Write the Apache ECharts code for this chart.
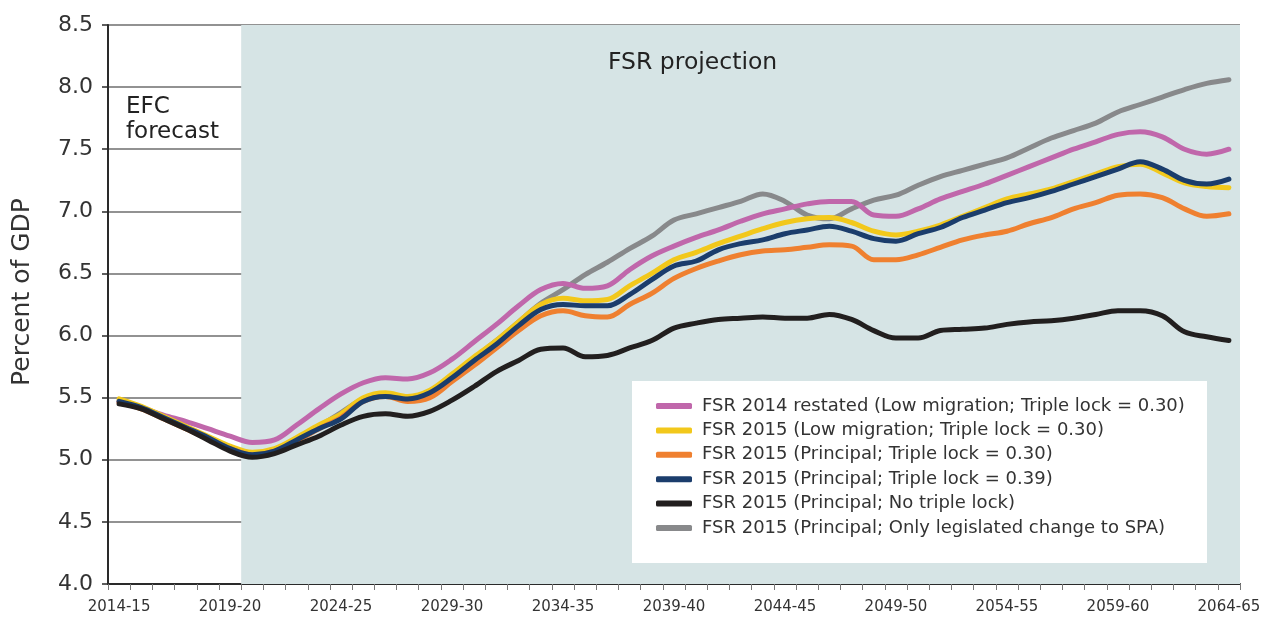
<!DOCTYPE html>
<html>
<head>
<meta charset="utf-8">
<script src="https://cdn.jsdelivr.net/npm/echarts@6/dist/echarts.min.js"></script>
<style>
html,body{margin:0;padding:0;background:#fff;}
#chart{width:1274px;height:622px;}
</style>
</head>
<body>
<div id="chart"></div>
<script>
const categories = ['2014-15','2015-16','2016-17','2017-18','2018-19','2019-20','2020-21','2021-22','2022-23','2023-24',
'2024-25','2025-26','2026-27','2027-28','2028-29','2029-30','2030-31','2031-32','2032-33','2033-34',
'2034-35','2035-36','2036-37','2037-38','2038-39','2039-40','2040-41','2041-42','2042-43','2043-44',
'2044-45','2045-46','2046-47','2047-48','2048-49','2049-50','2050-51','2051-52','2052-53','2053-54',
'2054-55','2055-56','2056-57','2057-58','2058-59','2059-60','2060-61','2061-62','2062-63','2063-64','2064-65'];

const yTicks = [4.0, 4.5, 5.0, 5.5, 6.0, 6.5, 7.0, 7.5, 8.0, 8.5];

const projectionStart = 6;   // first projection year index (2020-21)
const projectionEnd = 51;

const fsr2014Restated = [5.47,5.42,5.36,5.31,5.25,5.19,5.14,5.16,5.28,5.41,
5.53,5.62,5.66,5.65,5.70,5.81,5.95,6.09,6.24,6.37,
6.42,6.38,6.40,6.53,6.64,6.72,6.79,6.85,6.92,6.98,
7.02,7.06,7.08,7.08,6.97,6.96,7.02,7.10,7.16,7.22,
7.29,7.36,7.43,7.50,7.56,7.62,7.64,7.60,7.50,7.46,7.50];

const fsr2015LowMig = [5.49,5.43,5.35,5.27,5.19,5.11,5.06,5.09,5.18,5.28,
5.37,5.50,5.54,5.51,5.56,5.69,5.83,5.96,6.11,6.25,
6.30,6.28,6.29,6.40,6.50,6.61,6.67,6.74,6.80,6.86,
6.91,6.94,6.95,6.91,6.84,6.81,6.84,6.89,6.96,7.03,
7.10,7.14,7.18,7.24,7.30,7.36,7.38,7.31,7.23,7.20,7.19];

const fsr2015Principal030 = [5.46,5.41,5.33,5.25,5.17,5.09,5.04,5.07,5.15,5.25,
5.34,5.47,5.51,5.47,5.50,5.63,5.76,5.90,6.04,6.16,
6.20,6.16,6.15,6.25,6.34,6.46,6.54,6.60,6.65,6.68,
6.69,6.71,6.73,6.72,6.61,6.61,6.65,6.71,6.77,6.81,
6.84,6.90,6.95,7.02,7.07,7.13,7.14,7.11,7.02,6.96,6.98];

const fsr2015Principal039 = [5.47,5.42,5.34,5.26,5.18,5.09,5.04,5.07,5.16,5.25,
5.33,5.47,5.51,5.49,5.54,5.66,5.80,5.93,6.08,6.21,
6.25,6.24,6.24,6.33,6.45,6.56,6.60,6.69,6.74,6.77,
6.82,6.85,6.88,6.84,6.78,6.76,6.82,6.87,6.95,7.01,
7.07,7.11,7.16,7.22,7.28,7.34,7.40,7.34,7.25,7.22,7.26];

const fsr2015NoTripleLock = [5.45,5.41,5.33,5.25,5.16,5.07,5.02,5.05,5.12,5.19,
5.28,5.35,5.37,5.35,5.39,5.48,5.59,5.71,5.80,5.89,
5.90,5.83,5.84,5.90,5.96,6.06,6.10,6.13,6.14,6.15,
6.14,6.14,6.17,6.13,6.04,5.98,5.98,6.04,6.05,6.06,
6.09,6.11,6.12,6.14,6.17,6.20,6.20,6.16,6.03,5.99,5.96];

const fsr2015LegislatedSPA = [5.47,5.42,5.34,5.26,5.18,5.09,5.04,5.08,5.17,5.27,
5.38,5.49,5.53,5.50,5.55,5.68,5.82,5.96,6.11,6.26,
6.37,6.49,6.59,6.70,6.80,6.93,6.98,7.03,7.08,7.14,
7.08,6.97,6.94,7.02,7.09,7.13,7.21,7.28,7.33,7.38,
7.43,7.51,7.59,7.65,7.71,7.80,7.86,7.92,7.98,8.03,8.06];

const seriesNames = [
  'FSR 2014 restated (Low migration; Triple lock = 0.30)',
  'FSR 2015 (Low migration; Triple lock = 0.30)',
  'FSR 2015 (Principal; Triple lock = 0.30)',
  'FSR 2015 (Principal; Triple lock = 0.39)',
  'FSR 2015 (Principal; No triple lock)',
  'FSR 2015 (Principal; Only legislated change to SPA)'
];
const seriesData = [fsr2014Restated, fsr2015LowMig, fsr2015Principal030, fsr2015Principal039, fsr2015NoTripleLock, fsr2015LegislatedSPA];
const colors = ['#c067ab','#f2c81b','#ef8030','#1b3d6c','#221f1f','#88898b'];
const drawOrder = [5, 0, 1, 2, 3, 4];

const FONT = '"DejaVu Sans", "Liberation Sans", Arial, sans-serif';
const TXT = '#333333';
const chart = echarts.init(document.getElementById('chart'), null, {renderer: 'canvas'});

const lineSeries = drawOrder.map(function (k) {
  return {
    name: seriesNames[k],
    type: 'line',
    xAxisIndex: 0,
    yAxisIndex: 0,
    data: seriesData[k],
    symbol: 'none',
    smooth: 0.35,
    z: 3 + drawOrder.indexOf(k),
    lineStyle: {color: colors[k], width: 5, cap: 'round', join: 'round'},
    itemStyle: {color: colors[k]}
  };
});

const option = {
  animation: false,
  backgroundColor: '#ffffff',
  textStyle: {fontFamily: FONT},
  grid: {left: 108, right: 34, top: 25, bottom: 38, containLabel: false},
  xAxis: [{
    type: 'category',
    data: categories,
    boundaryGap: true,
    axisLine: {show: true, lineStyle: {color: '#2a2a2a', width: 2}},
    axisTick: {show: true, interval: 0, length: 6, lineStyle: {color: '#777', width: 1}},
    axisLabel: {interval: 4, color: TXT, fontSize: 15, fontFamily: FONT, margin: 16},
    splitLine: {show: false}
  }, {
    type: 'value',
    min: 0,
    max: projectionEnd,
    show: false
  }],
  yAxis: {
    type: 'value',
    min: 4.0,
    max: 8.5,
    interval: 0.5,
    axisLine: {show: true, lineStyle: {color: '#2a2a2a', width: 2}},
    axisTick: {show: true, length: 6, lineStyle: {color: '#2a2a2a', width: 1.5}},
    axisLabel: {color: TXT, fontSize: 22, fontFamily: FONT, margin: 15,
      formatter: function (v) { return yTicks.indexOf(v) >= 0 ? v.toFixed(1) : ''; }},
    splitLine: {show: true, lineStyle: {color: '#6e6e6e', width: 1.5}}
  },
  legend: {
    orient: 'vertical',
    left: 656,
    top: 397,
    z: 20,
    data: seriesNames,
    icon: 'roundRect',
    itemWidth: 36,
    itemHeight: 6,
    itemGap: 6.4,
    padding: 0,
    textStyle: {color: TXT, fontSize: 18, fontFamily: FONT, padding: [0, 0, 0, 5], lineHeight: 18},
    selectedMode: false
  },
  graphic: [
    {type: 'rect', z: 15, shape: {x: 632, y: 381, width: 575, height: 182}, style: {fill: '#ffffff'}},
    {type: 'text', z: 20, left: 608, top: 51, style: {text: 'FSR projection', fill: '#222', font: '23.5px ' + FONT}},
    {type: 'text', z: 20, left: 126, top: 95, style: {text: 'EFC\nforecast', fill: '#222', font: '23px ' + FONT, lineHeight: 25}},
    {type: 'text', z: 20, x: 22, y: 292, rotation: Math.PI / 2,
      style: {text: 'Percent of GDP', fill: TXT, font: '25px ' + FONT, textAlign: 'center', textVerticalAlign: 'middle'}}
  ],
  series: [{
    name: 'projection-shade',
    type: 'line',
    xAxisIndex: 1,
    yAxisIndex: 0,
    data: [[projectionStart, null]],
    symbol: 'none',
    silent: true,
    z: -1,
    markArea: {
      silent: true,
      itemStyle: {color: '#d6e4e5'},
      data: [[{xAxis: projectionStart}, {xAxis: projectionEnd}]]
    }
  }].concat(lineSeries)
};
chart.setOption(option);
</script>
</body>
</html>
